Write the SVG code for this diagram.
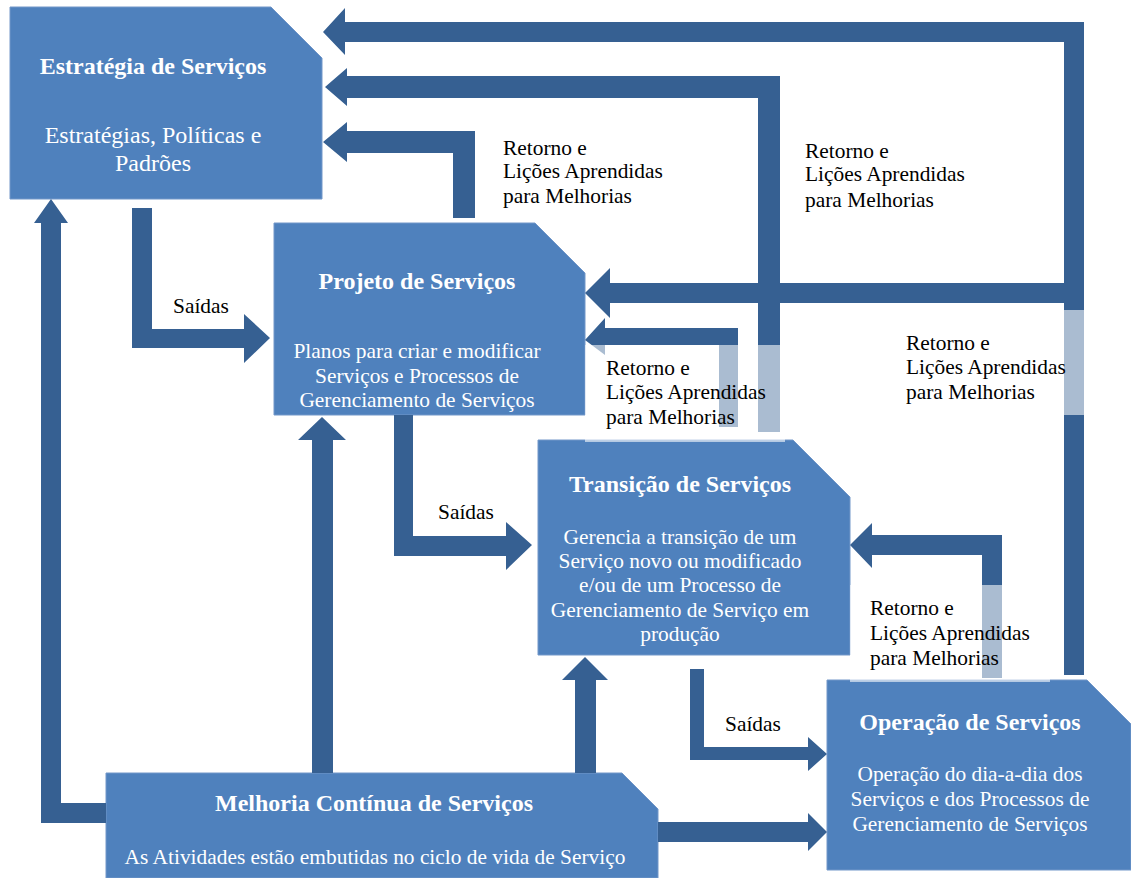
<svg xmlns="http://www.w3.org/2000/svg" width="1131" height="878" viewBox="0 0 1131 878">
<style>
.node{fill:#4F81BD;stroke:#7297C9;stroke-width:1}
.arr{fill:#366092}
.ov{fill:#ffffff;fill-opacity:0.58}
text{font-family:'Liberation Serif','Tinos','DejaVu Serif',serif}
.t{fill:#ffffff;text-anchor:middle}
.tt{font-weight:bold;font-size:24px}
.tb{font-size:21.4px}
.lb{fill:#000000;font-size:21.4px}
</style>
<rect width="1131" height="878" fill="#ffffff"/>
<g id="n-estrategia">
<polygon class="node" points="10,7 271,7 322,58 322,199 10,199"/>
<text class="t tt" x="153" y="74">Estratégia de Serviços</text>
<text class="t" x="153" y="143" font-size="24">Estratégias, Políticas e</text>
<text class="t" x="153" y="171" font-size="24">Padrões</text>
</g>
<g id="n-projeto">
<polygon class="node" points="274,223 535,223 585,273 585,415 274,415"/>
<text class="t tt" x="417" y="289">Projeto de Serviços</text>
<text class="t tb" x="417" y="358">Planos para criar e modificar</text>
<text class="t tb" x="417" y="383">Serviços e Processos de</text>
<text class="t tb" x="417" y="407">Gerenciamento de Serviços</text>
</g>
<g id="n-transicao">
<polygon class="node" points="538,440 793,440 850,497 850,655 538,655"/>
<text class="t tt" x="680" y="492">Transição de Serviços</text>
<text class="t tb" x="680" y="544">Gerencia a transição de um</text>
<text class="t tb" x="680" y="568">Serviço novo ou modificado</text>
<text class="t tb" x="680" y="592">e/ou de um Processo de</text>
<text class="t tb" x="680" y="617">Gerenciamento de Serviço em</text>
<text class="t tb" x="680" y="641">produção</text>
</g>
<g id="n-operacao">
<polygon class="node" points="827,680 1087,680 1131,724 1131,870 827,870"/>
<text class="t tt" x="970" y="730">Operação de Serviços</text>
<text class="t tb" x="970" y="781">Operação do dia-a-dia dos</text>
<text class="t tb" x="970" y="806">Serviços e dos Processos de</text>
<text class="t tb" x="970" y="831">Gerenciamento de Serviços</text>
</g>
<g id="n-melhoria">
<polygon class="node" points="106,773 622,773 658,809 658,878 106,878"/>
<text class="t tt" x="374" y="811">Melhoria Contínua de Serviços</text>
<text class="t tb" x="375" y="864">As Atividades estão embutidas no ciclo de vida de Serviço</text>
</g>
<g id="connectors">
<polygon class="arr" points="1064,675 1064,42 345,42 345,55 323,32 345,8 345,22 1084,22 1084,675"/>
<polygon class="arr" points="1064,283 610,283 610,268 585,293 610,318 610,303 1064,303"/>
<polygon class="arr" points="758,432 758,98 347,98 347,106 325,87 347,68 347,76 780,76 780,432"/>
<polygon class="arr" points="453,218 453,153 347,153 347,162 323,142 347,122 347,131 475,131 475,218"/>
<polygon class="arr" points="719,427 719,345 605,345 605,355 585,340 605,318 605,328 738,328 738,427"/>
<polygon class="arr" points="982,678 982,555 872,555 872,568 850,545 872,523 872,535 1002,535 1002,678"/>
<polygon class="arr" points="132,208 152,208 152,329 244,329 244,314 270,338 244,363 244,348 132,348"/>
<polygon class="arr" points="394,415 413,415 413,536 506,536 506,522 532,545 506,570 506,556 394,556"/>
<polygon class="arr" points="690,669 704,669 704,747 808,747 808,737 827,754 808,771 808,760 690,760"/>
<polygon class="arr" points="106,803 106,823 41,823 41,223 34,223 51,199 68,223 61,223 61,803"/>
<polygon class="arr" points="312,773 312,440 298,440 322,417 346,440 333,440 333,773"/>
<polygon class="arr" points="575,773 575,680 562,680 585,657 608,680 596,680 596,773"/>
<polygon class="arr" points="658,822 808,822 808,813 827,832 808,851 808,842 658,842"/>
</g>
<g id="labels">
<text class="lb" x="503" y="155">Retorno e</text>
<text class="lb" x="503" y="178">Lições Aprendidas</text>
<text class="lb" x="503" y="203">para Melhorias</text>
<text class="lb" x="805" y="158">Retorno e</text>
<text class="lb" x="805" y="181">Lições Aprendidas</text>
<text class="lb" x="805" y="207">para Melhorias</text>
<rect class="ov" x="900" y="310" width="190" height="105"/>
<text class="lb" x="906" y="350">Retorno e</text>
<text class="lb" x="906" y="374">Lições Aprendidas</text>
<text class="lb" x="906" y="399">para Melhorias</text>
<rect class="ov" x="585" y="345" width="200" height="97"/>
<text class="lb" x="606" y="375">Retorno e</text>
<text class="lb" x="606" y="399">Lições Aprendidas</text>
<text class="lb" x="606" y="424">para Melhorias</text>
<rect class="ov" x="850" y="585" width="200" height="97"/>
<text class="lb" x="870" y="615">Retorno e</text>
<text class="lb" x="870" y="640">Lições Aprendidas</text>
<text class="lb" x="870" y="665">para Melhorias</text>
<text class="lb" x="173" y="313">Saídas</text>
<text class="lb" x="438" y="519">Saídas</text>
<text class="lb" x="725" y="731">Saídas</text>
</g>
</svg>
